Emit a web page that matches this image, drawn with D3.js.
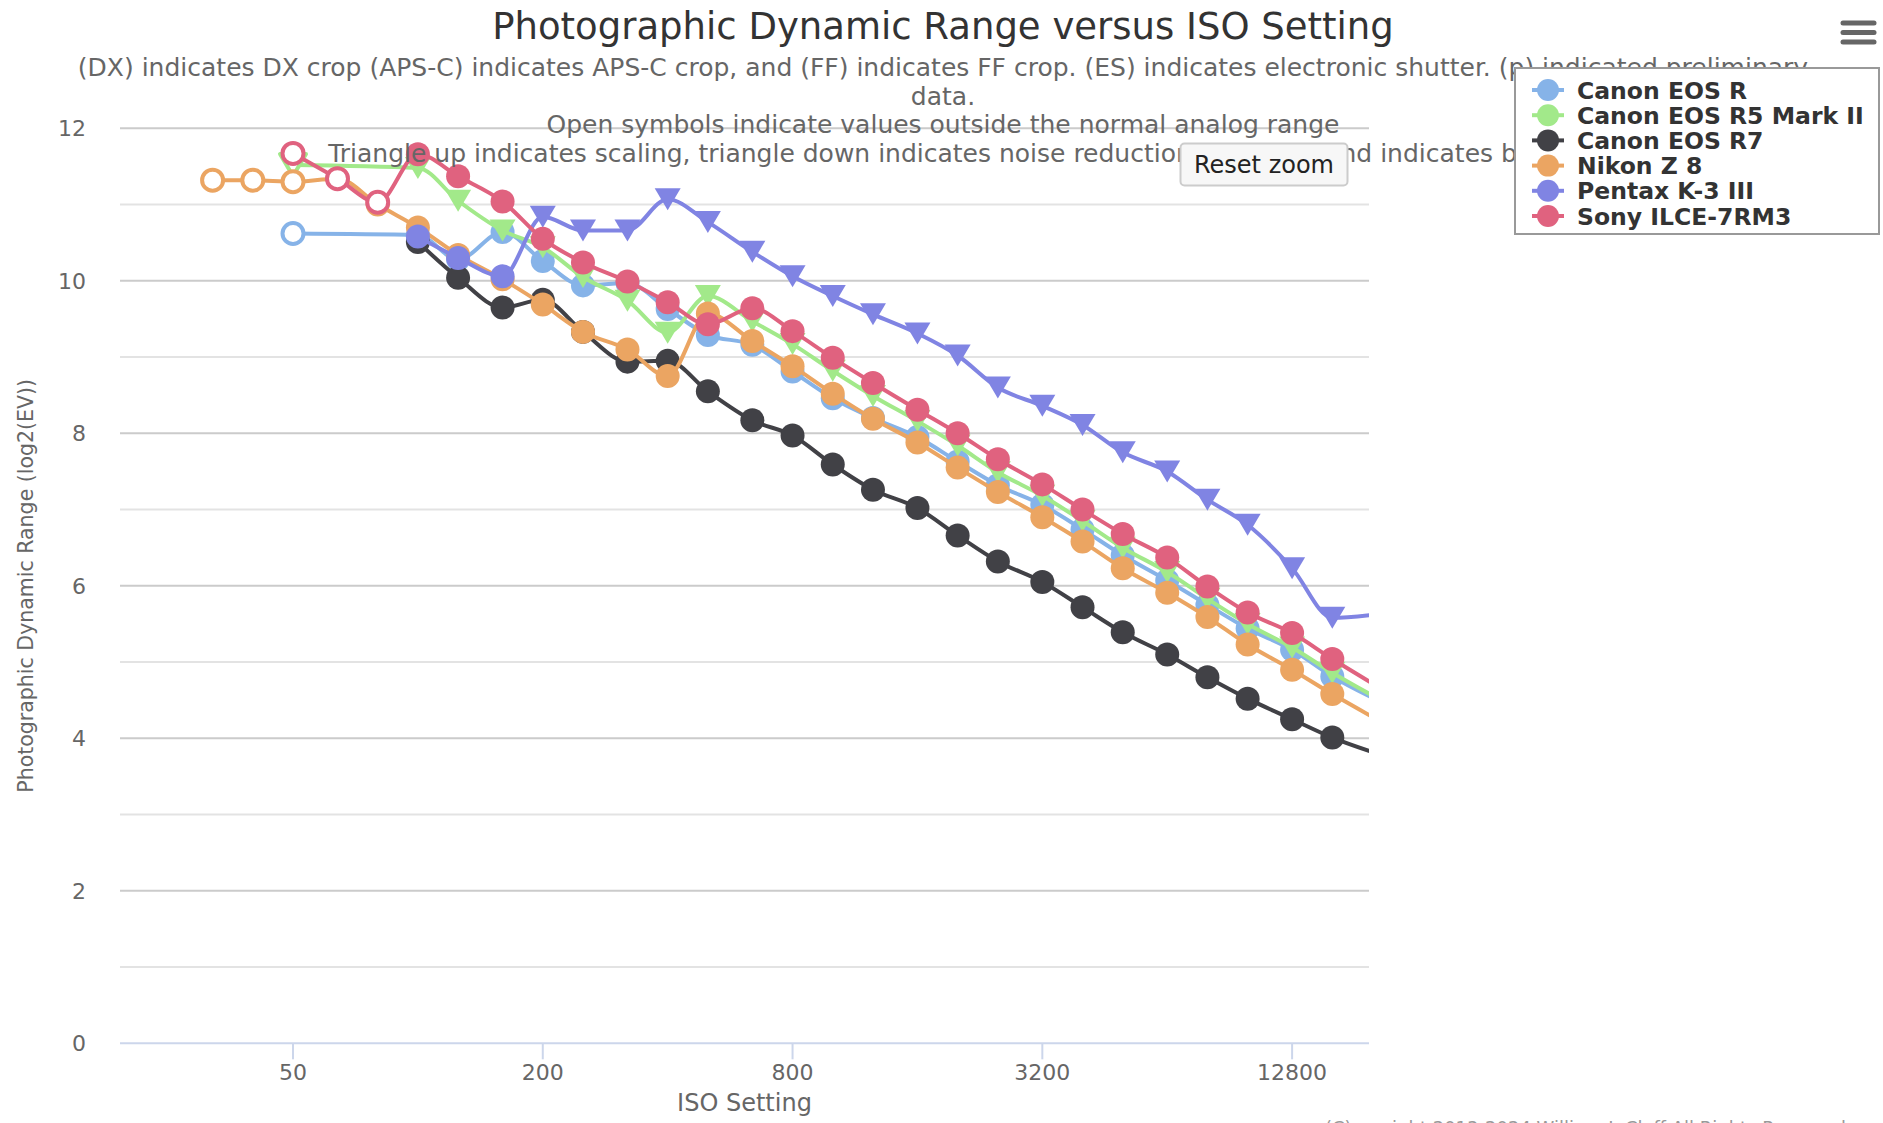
<!DOCTYPE html>
<html>
<head>
<meta charset="utf-8">
<script src="https://cdn.jsdelivr.net/npm/d3@7"></script>
<style>
  html, body { margin: 0; padding: 0; background: #fff; }
  svg { display: block; font-family: "DejaVu Sans", sans-serif; }
</style>
</head>
<body>
<svg id="chart" width="1883" height="1123"></svg>
<script>
// ISO settings on the x axis (1/3 stop steps)
const isoSettings = [32, 40, 50, 64, 80, 100, 125, 160, 200, 250, 320, 400, 500, 640, 800,
  1000, 1250, 1600, 2000, 2500, 3200, 4000, 5000, 6400, 8000, 10000, 12800, 16000, 20000];
const xTicks = [50, 200, 800, 3200, 12800];
const yTicks = [0, 2, 4, 6, 8, 10, 12];

// dynamic range per ISO, null where the camera has no setting
const canonR = [null, null, 10.62, null, null, 10.6, 10.28, 10.64, 10.26, 9.94, 9.97, 9.63, 9.29, 9.16, 8.81,
  8.46, 8.2, 7.95, 7.63, 7.32, 7.06, 6.74, 6.4, 6.07, 5.75, 5.44, 5.16, 4.81, 4.53];
const canonR5II = [null, null, 11.52, null, null, 11.48, 11.05, 10.66, 10.44, 10.05, 9.74, 9.32, 9.8, 9.47, 9.17,
  8.82, 8.49, 8.16, 7.84, 7.49, 7.18, 6.85, 6.5, 6.18, 5.83, 5.5, 5.19, 4.86, 4.56];
const canonR7 = [null, null, null, null, null, 10.51, 10.04, 9.65, 9.75, 9.33, 8.94, 8.95, 8.55, 8.17, 7.97,
  7.59, 7.26, 7.02, 6.66, 6.32, 6.05, 5.72, 5.39, 5.1, 4.8, 4.52, 4.25, 4.01, 3.82];
const nikonZ8 = [11.32, 11.32, 11.3, 11.34, 11.0, 10.7, 10.34, 10.02, 9.69, 9.33, 9.1, 8.75, 9.57, 9.21, 8.88,
  8.52, 8.19, 7.88, 7.55, 7.23, 6.9, 6.58, 6.23, 5.91, 5.59, 5.23, 4.9, 4.58, 4.28];
const pentaxK3III = [null, null, null, null, null, 10.58, 10.3, 10.06, 10.84, 10.66, 10.66, 11.07, 10.77, 10.38, 10.06,
  9.8, 9.56, 9.31, 9.02, 8.6, 8.36, 8.11, 7.75, 7.5, 7.13, 6.8, 6.23, 5.58, 5.62];
const sonyA7RIII = [null, null, 11.67, 11.34, 11.03, 11.66, 11.37, 11.04, 10.55, 10.24, 9.99, 9.72, 9.43, 9.64, 9.34,
  8.99, 8.66, 8.31, 8.0, 7.66, 7.33, 7.0, 6.68, 6.37, 5.99, 5.65, 5.38, 5.04, 4.72];

// marker per ISO: o open circle, c circle, v triangle down, w open triangle down, . none
const canonRMarks      = "..o..cccccccccccccccccccccccc";
const canonR5IIMarks   = "..w..vvvvvvvvvvvvvvvvvvvvvvvv";
const canonR7Marks     = ".....cccccccccccccccccccccccc";
const nikonZ8Marks     = "ooocccccccccccccccccccccccccc";
const pentaxK3IIIMarks = ".....cccvvvvvvvvvvvvvvvvvvvvv";
const sonyA7RIIIMarks  = "..ooocccccccccccccccccccccccc";

const seriesNames = ["Canon EOS R", "Canon EOS R5 Mark II", "Canon EOS R7", "Nikon Z 8", "Pentax K-3 III", "Sony ILCE-7RM3"];
const seriesValues = [canonR, canonR5II, canonR7, nikonZ8, pentaxK3III, sonyA7RIII];
const seriesMarks = [canonRMarks, canonR5IIMarks, canonR7Marks, nikonZ8Marks, pentaxK3IIIMarks, sonyA7RIIIMarks];
const seriesColors = ["#86b3e8", "#a2e98a", "#414146", "#eba562", "#8084e3", "#e0627f"];

const subtitleLines = [
  "(DX) indicates DX crop (APS-C) indicates APS-C crop, and (FF) indicates FF crop. (ES) indicates electronic shutter. (p) indicated preliminary",
  "data.",
  "Open symbols indicate values outside the normal analog range",
  "Triangle up indicates scaling, triangle down indicates noise reduction, and diamond indicates both"
];

const svg = d3.select("#chart");
const plot = { left: 120, right: 1369, top: 128.3, bottom: 1043.3 };

const x = d3.scaleLog().base(2).domain([19.14, 19614]).range([plot.left, plot.right]);
const y = d3.scaleLinear().domain([0, 12]).range([plot.bottom, plot.top]);

svg.append("rect").attr("width", 1883).attr("height", 1123).attr("fill", "#fff");

// grid: even values darker, odd values lighter
const gridVals = d3.range(1, 13);
svg.append("g").selectAll("line").data(gridVals).enter().append("line")
  .attr("x1", plot.left).attr("x2", plot.right)
  .attr("y1", d => y(d)).attr("y2", d => y(d))
  .attr("stroke", d => d % 2 === 0 ? "#cbcbcb" : "#e3e3e3")
  .attr("stroke-width", 2);

// y axis labels
svg.append("g").selectAll("text").data(yTicks).enter().append("text")
  .attr("x", 86).attr("y", d => y(d) + 8)
  .attr("text-anchor", "end")
  .attr("font-size", 22).attr("fill", "#666")
  .text(d => d);

// x axis line and ticks
svg.append("line")
  .attr("x1", plot.left).attr("x2", plot.right)
  .attr("y1", plot.bottom).attr("y2", plot.bottom)
  .attr("stroke", "#ccd6eb").attr("stroke-width", 2);
const xAxisG = svg.append("g");
xAxisG.selectAll("line").data(xTicks).enter().append("line")
  .attr("x1", d => x(d)).attr("x2", d => x(d))
  .attr("y1", plot.bottom).attr("y2", plot.bottom + 16)
  .attr("stroke", "#ccd6eb").attr("stroke-width", 2);
xAxisG.selectAll("text").data(xTicks).enter().append("text")
  .attr("x", d => x(d)).attr("y", 1080)
  .attr("text-anchor", "middle")
  .attr("font-size", 22).attr("fill", "#666")
  .text(d => d);

// axis titles
svg.append("text")
  .attr("x", (plot.left + plot.right) / 2).attr("y", 1111)
  .attr("text-anchor", "middle").attr("font-size", 24).attr("fill", "#666")
  .text("ISO Setting");
svg.append("text")
  .attr("transform", `translate(33, ${(plot.top + plot.bottom) / 2}) rotate(-90)`)
  .attr("text-anchor", "middle").attr("font-size", 20.5).attr("fill", "#666")
  .text("Photographic Dynamic Range (log2(EV))");

// series
svg.append("defs").append("clipPath").attr("id", "plotClip")
  .append("rect")
  .attr("x", plot.left).attr("y", plot.top - 40)
  .attr("width", plot.right - plot.left).attr("height", plot.bottom - plot.top + 40);

const line = d3.line()
  .defined(d => d.v != null)
  .x(d => x(d.iso)).y(d => y(d.v))
  .curve(d3.curveMonotoneX);

const [xMin, xMax] = x.domain();

seriesValues.forEach((vals, si) => {
  const color = seriesColors[si];
  const pts = vals.map((v, i) => ({ iso: isoSettings[i], v, m: seriesMarks[si][i] }));
  const g = svg.append("g");
  g.append("path")
    .attr("d", line(pts.filter(d => d.v != null)))
    .attr("fill", "none").attr("stroke", color).attr("stroke-width", 4)
    .attr("stroke-linejoin", "round")
    .attr("clip-path", "url(#plotClip)");

  const marks = pts.filter(d => d.v != null && d.iso >= xMin && d.iso <= xMax);
  marks.forEach(d => {
    const cx = x(d.iso), cy = y(d.v);
    if (d.m === "c") {
      g.append("circle").attr("cx", cx).attr("cy", cy).attr("r", 12).attr("fill", color);
    } else if (d.m === "o") {
      g.append("circle").attr("cx", cx).attr("cy", cy).attr("r", 10.5)
        .attr("fill", "#fff").attr("stroke", color).attr("stroke-width", 4);
    } else if (d.m === "v" || d.m === "w") {
      const p = `M${cx - 13},${cy - 11}L${cx + 13},${cy - 11}L${cx},${cy + 11}Z`;
      g.append("path").attr("d", p)
        .attr("fill", d.m === "v" ? color : "#fff")
        .attr("stroke", d.m === "v" ? "none" : color)
        .attr("stroke-width", 4).attr("stroke-linejoin", "round");
    }
  });
});

// title and subtitle
svg.append("text")
  .attr("x", 943).attr("y", 39)
  .attr("text-anchor", "middle").attr("font-size", 37).attr("fill", "#333")
  .text("Photographic Dynamic Range versus ISO Setting");
svg.append("g").selectAll("text").data(subtitleLines).enter().append("text")
  .attr("x", 943).attr("y", (d, i) => 76 + i * 28.5)
  .attr("text-anchor", "middle").attr("font-size", 25).attr("fill", "#666")
  .text(d => d);

// reset zoom button
const btn = svg.append("g");
btn.append("rect")
  .attr("x", 1180.5).attr("y", 143.5).attr("width", 167).attr("height", 42).attr("rx", 4)
  .attr("fill", "#f7f7f7").attr("stroke", "#cccccc").attr("stroke-width", 2);
btn.append("text")
  .attr("x", 1264).attr("y", 173)
  .attr("text-anchor", "middle").attr("font-size", 24).attr("fill", "#222")
  .text("Reset zoom");

// legend
const legend = svg.append("g");
legend.append("rect")
  .attr("x", 1515).attr("y", 68).attr("width", 364).attr("height", 166)
  .attr("fill", "#fff").attr("stroke", "#999").attr("stroke-width", 2);
const items = legend.selectAll("g.item").data(seriesNames).enter().append("g")
  .attr("transform", (d, i) => `translate(0, ${90 + i * 25.2})`);
items.append("line")
  .attr("x1", 1532).attr("x2", 1564).attr("y1", 0).attr("y2", 0)
  .attr("stroke", (d, i) => seriesColors[i]).attr("stroke-width", 4);
items.append("circle")
  .attr("cx", 1548).attr("cy", 0).attr("r", 11)
  .attr("fill", (d, i) => seriesColors[i]);
items.append("text")
  .attr("x", 1577).attr("y", 8.5)
  .attr("font-size", 23.5).attr("font-weight", "bold").attr("fill", "#333")
  .text(d => d);

// context menu icon
svg.append("g").selectAll("line").data([23, 32.5, 42]).enter().append("line")
  .attr("x1", 1843).attr("x2", 1874).attr("y1", d => d).attr("y2", d => d)
  .attr("stroke", "#666").attr("stroke-width", 5).attr("stroke-linecap", "round");

// credits (cut off at the bottom edge)
svg.append("text")
  .attr("x", 1325).attr("y", 1134)
  .attr("font-size", 18).attr("fill", "#999")
  .text("(C)opyright 2013-2024 William J. Claff All Rights Reserved");
</script>
</body>
</html>
